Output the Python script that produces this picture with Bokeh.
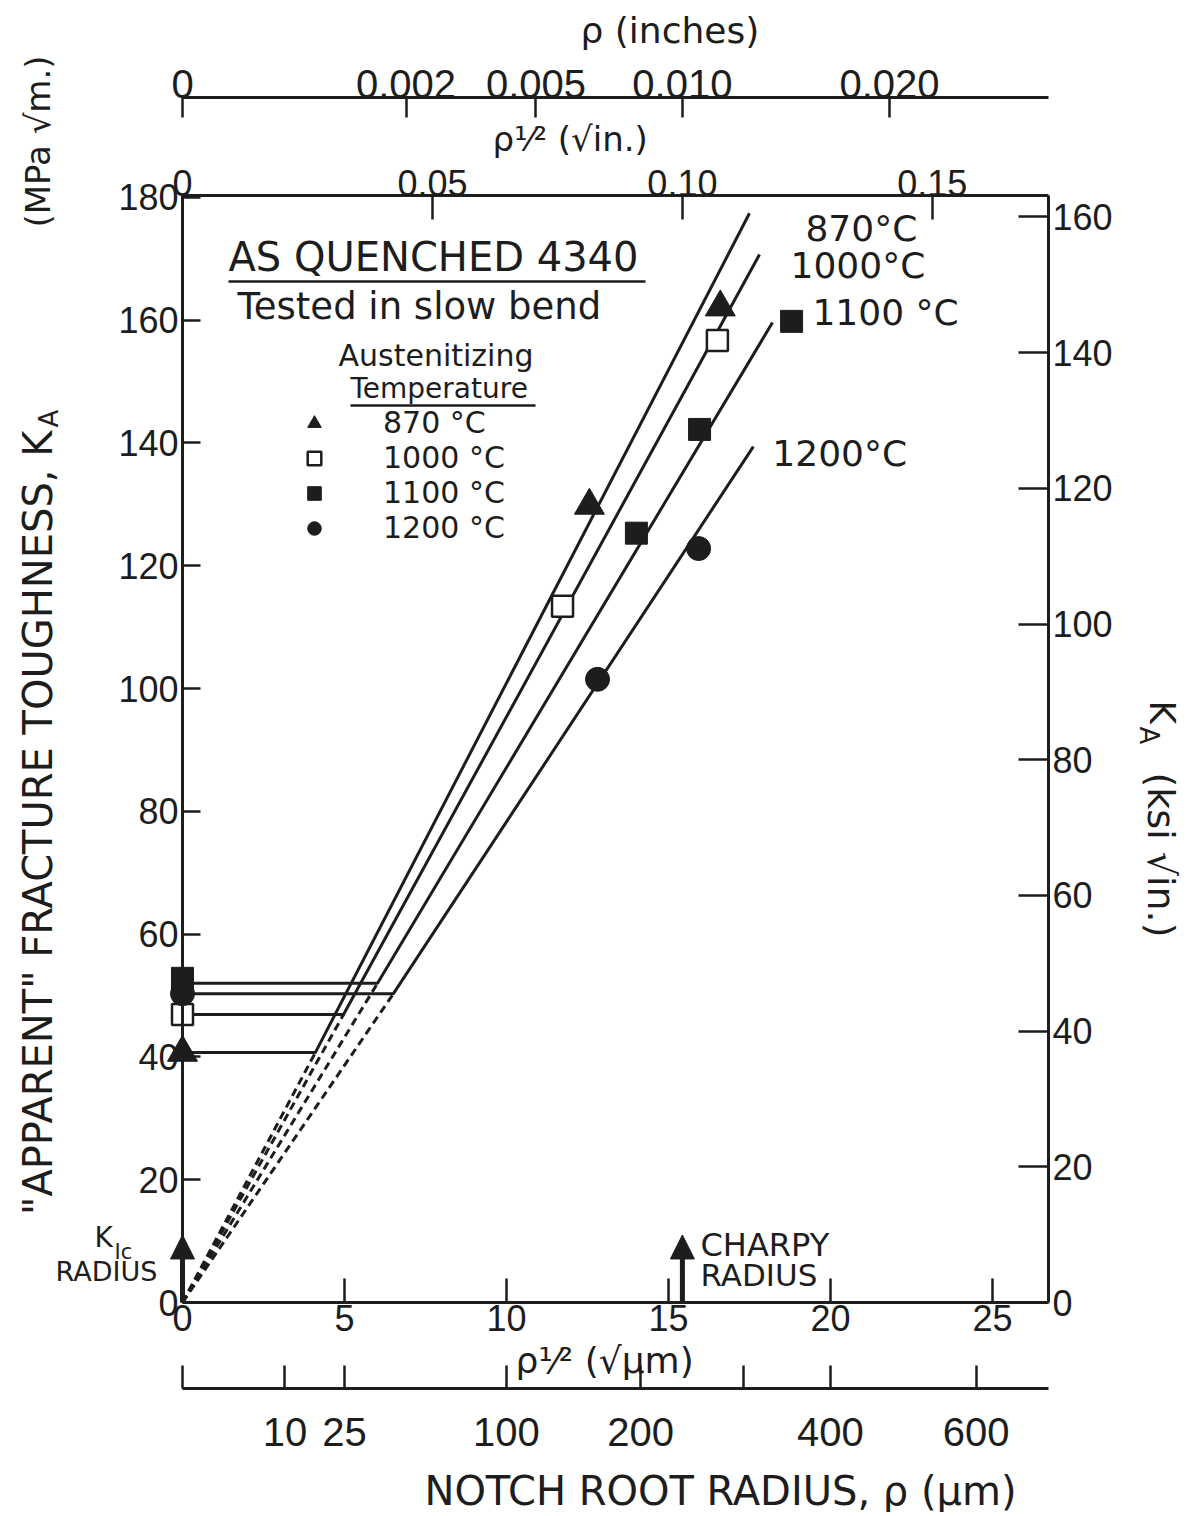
import math
from bokeh.plotting import figure
from bokeh.models import (LinearAxis, Range1d, FixedTicker, Label, Arrow, NormalHead,
                          Legend, LegendItem, BoxAnnotation)
from bokeh.embed import file_html
from bokeh.resources import INLINE

# ---------------- data ----------------
series_names = ["870 °C", "1000 °C", "1100 °C", "1200 °C"]
line_tags = ["870°C", "1000°C", "1100 °C", "1200°C"]

# measured points: x = rho^1/2 (sqrt(um)), y = K_A (MPa sqrt(m))
x_870 = [0.0, 12.56, 16.60]
y_870 = [40.7, 129.8, 162.1]
x_1000 = [0.0, 11.73, 16.51]
y_1000 = [46.9, 113.4, 156.7]
x_1100 = [0.0, 14.01, 15.96, 18.80]
y_1100 = [52.8, 125.3, 142.2, 159.8]
x_1200 = [0.0, 12.81, 15.93]
y_1200 = [50.3, 101.5, 122.8]

# fitted curves: plateau level, knee, upper end of the sloped line
plateau_K = [40.7, 46.9, 52.0, 50.3]
knee_sqrt_rho = [4.10, 4.97, 6.02, 6.51]
upper_sqrt_rho = [17.50, 17.81, 18.21, 17.62]
upper_K = [177.4, 170.7, 159.6, 139.4]

# reference radii (sqrt(um))
kic_sqrt_rho = 0.0
charpy_sqrt_rho = 15.43

# ticks
k_ticks_mpa = [0, 20, 40, 60, 80, 100, 120, 140, 160, 180]
k_ticks_ksi = [0, 20, 40, 60, 80, 100, 120, 140, 160]
sqrt_um_ticks = [0, 5, 10, 15, 20, 25]
rho_um_ticks = [0, 10, 25, 100, 200, 300, 400, 600]
rho_um_labels = ["", "10", "25", "100", "200", "", "400", "600"]
sqrt_in_ticks = [0, 0.05, 0.10, 0.15]
sqrt_in_labels = ["0", "0.05", "0.10", "0.15"]
rho_in_ticks = [0, 0.002, 0.005, 0.010, 0.020]
rho_in_labels = ["0", "0.002", "0.005", "0.010", "0.020"]

# scale relations as drawn on the chart
mpa_per_ksi = 1.105
sqrt_um_per_sqrt_in = 154.3
X_MAX = 26.73
Y_MAX = 180.3

# ---------------- layout / style ----------------
INK = "#1d1d1d"
TXT = "DejaVu Sans"
NUM = "Liberation Sans"
W, H = 1185, 1512
FR_L, FR_R, FR_T, FR_B = 182, 1048, 195, 1302   # data box edges on the page
PX_X = (FR_R - FR_L) / X_MAX
PX_Y = (FR_B - FR_T) / Y_MAX


def px2x(px):
    return (px - FR_L) / PX_X


def py2y(py):
    return (FR_B - py) / PX_Y


x0, x1 = px2x(0), px2x(W)
y0, y1 = py2y(H), py2y(0)

p = figure(width=W, height=H, x_range=Range1d(x0, x1), y_range=Range1d(y0, y1),
           toolbar_location=None, output_backend="svg", title=None,
           x_axis_location=None, y_axis_location=None,
           min_border=0, min_border_left=0, min_border_right=0,
           min_border_top=0, min_border_bottom=0,
           outline_line_color=None, background_fill_color="white",
           border_fill_color="white")
p.xgrid.visible = False
p.ygrid.visible = False
p.extra_x_ranges = {"sqrt_in": Range1d(x0 / sqrt_um_per_sqrt_in, x1 / sqrt_um_per_sqrt_in)}
p.extra_y_ranges = {"ksi": Range1d(y0 / mpa_per_ksi, y1 / mpa_per_ksi)}


def style_axis(ax, tick_in, standoff, size, font=NUM):
    ax.major_tick_in = tick_in
    ax.major_tick_out = 0
    ax.minor_tick_line_color = None
    ax.axis_line_width = 3
    ax.axis_line_color = INK
    ax.major_tick_line_width = 2.5
    ax.major_tick_line_color = INK
    ax.major_label_standoff = standoff
    ax.major_label_text_font = font
    ax.major_label_text_font_size = size
    ax.major_label_text_color = INK


# left (MPa)
ax_l = LinearAxis(ticker=FixedTicker(ticks=k_ticks_mpa), fixed_location=0, bounds=(0, Y_MAX))
style_axis(ax_l, 18, 4, "36px")
p.add_layout(ax_l, "left")

# right (ksi)
ax_r = LinearAxis(y_range_name="ksi", ticker=FixedTicker(ticks=k_ticks_ksi),
                  fixed_location=X_MAX, bounds=(0, Y_MAX / mpa_per_ksi))
style_axis(ax_r, 30, 4, "36px")
p.add_layout(ax_r, "right")

# bottom inner: rho^1/2 (sqrt um)
ax_b1 = LinearAxis(ticker=FixedTicker(ticks=sqrt_um_ticks), fixed_location=0, bounds=(0, X_MAX))
style_axis(ax_b1, 24, 2, "36px")
p.add_layout(ax_b1, "below")

# bottom outer: rho (um) on sqrt scale
b2_pos = [math.sqrt(v) for v in rho_um_ticks]
ax_b2 = LinearAxis(ticker=FixedTicker(ticks=b2_pos), fixed_location=py2y(1388), bounds=(0, X_MAX))
style_axis(ax_b2, 23, 29, "40px")
ax_b2.major_label_overrides = {k: v for k, v in zip(b2_pos, rho_um_labels)}
p.add_layout(ax_b2, "below")

# top inner: rho^1/2 (sqrt in)
ax_t1 = LinearAxis(x_range_name="sqrt_in", ticker=FixedTicker(ticks=sqrt_in_ticks),
                   fixed_location=Y_MAX, bounds=(0, X_MAX / sqrt_um_per_sqrt_in))
style_axis(ax_t1, 24, 0, "36px")
ax_t1.major_label_overrides = {k: v for k, v in zip(sqrt_in_ticks, sqrt_in_labels)}
p.add_layout(ax_t1, "above")

# top outer: rho (inches) on sqrt scale
t2_pos = [math.sqrt(v) for v in rho_in_ticks]
ax_t2 = LinearAxis(x_range_name="sqrt_in", ticker=FixedTicker(ticks=t2_pos),
                   fixed_location=py2y(97), bounds=(0, X_MAX / sqrt_um_per_sqrt_in))
style_axis(ax_t2, 20, 0, "40px")
ax_t2.major_label_overrides = {k: v for k, v in zip(t2_pos, rho_in_labels)}
p.add_layout(ax_t2, "above")

# ---------------- curves ----------------
for i in range(4):
    p.line([kic_sqrt_rho, knee_sqrt_rho[i], upper_sqrt_rho[i]],
           [plateau_K[i], plateau_K[i], upper_K[i]],
           line_color=INK, line_width=3)
    p.line([kic_sqrt_rho, knee_sqrt_rho[i]], [0, plateau_K[i]],
           line_color=INK, line_width=3, line_dash="8 5")

r870 = p.scatter(x_870, y_870, marker="triangle", size=30, fill_color=INK, line_color=INK)
r1000 = p.scatter(x_1000, y_1000, marker="square", size=21, fill_color="white",
                  line_color=INK, line_width=2.5)
r1100 = p.scatter(x_1100, y_1100, marker="square", size=22, fill_color=INK, line_color=INK)
r1200 = p.scatter(x_1200, y_1200, marker="circle", size=24, fill_color=INK, line_color=INK)
renderers = [r870, r1000, r1100, r1200]

# legend (position measured in px from the canvas bottom-left)
legend = Legend(items=[LegendItem(label=n, renderers=[r]) for n, r in zip(series_names, renderers)],
                location=(289, H - 545), orientation="vertical", glyph_width=50, glyph_height=34,
                spacing=0, padding=0, margin=0, label_standoff=44, label_height=34,
                label_text_font=TXT, label_text_font_size="30px", label_text_color=INK,
                border_line_color=None, background_fill_alpha=0)
p.add_layout(legend)

# arrows for the K_Ic and Charpy radii
for xr in [kic_sqrt_rho, charpy_sqrt_rho]:
    p.add_layout(Arrow(end=NormalHead(size=24, fill_color=INK, line_color=INK, line_width=1),
                       x_start=xr, y_start=0, x_end=xr, y_end=11.0,
                       line_color=INK, line_width=5))


# ---------------- texts ----------------
def txt(px, py, text, size, angle=0.0, align="left", font=TXT):
    p.add_layout(Label(x=px2x(px), y=py2y(py), text=text, angle=angle,
                       text_align=align, text_baseline="middle", text_font=font,
                       text_font_size=f"{size}px", text_color=INK))


def bar(xa, xb, py, thick=2.5):
    p.add_layout(BoxAnnotation(left=px2x(xa), right=px2x(xb),
                               top=py2y(py - thick / 2), bottom=py2y(py + thick / 2),
                               fill_color=INK, fill_alpha=1, line_alpha=0))


# line tags at the upper ends
tag_dx = [56, 31, 40, 19]
tag_dy = [-15, -11, 10, -7]
for i in range(4):
    p.add_layout(Label(x=upper_sqrt_rho[i], y=upper_K[i], x_offset=tag_dx[i], y_offset=tag_dy[i],
                       text=line_tags[i], text_align="left", text_baseline="middle",
                       text_font=TXT, text_font_size="36px", text_color=INK))

txt(228, 256, "AS QUENCHED 4340", 40)
bar(228, 645, 281)
txt(237, 306, "Tested in slow bend", 37)
txt(338, 355, "Austenitizing", 30)
txt(350, 388, "Temperature", 28)
bar(350, 535, 405)

txt(94, 1237, "K", 28)
txt(114, 1251, "Ic", 21)
txt(55, 1271, "RADIUS", 27)
txt(700, 1244, "CHARPY", 32)
txt(700, 1274, "RADIUS", 31)

# axis titles
txt(580, 30, "ρ (inches)", 36)
txt(492, 138, "ρ¹⁄² (√in.)", 34)
txt(515, 1360, "ρ¹⁄² (√µm)", 36)
txt(720, 1490, "NOTCH ROOT RADIUS, ρ (µm)", 40, align="center")

txt(37, 430, "\"APPARENT\" FRACTURE TOUGHNESS, K", 40, angle=math.pi / 2, align="right")
txt(48, 427, "A", 26, angle=math.pi / 2, align="left")
txt(37, 55, "(MPa √m.)", 34, angle=math.pi / 2, align="right")

txt(1162, 700, "K", 36, angle=-math.pi / 2)
txt(1148, 726, "A", 26, angle=-math.pi / 2)
txt(1160, 772, "(ksi √in.)", 38, angle=-math.pi / 2)

open("out.html", "w").write(file_html(p, INLINE))
